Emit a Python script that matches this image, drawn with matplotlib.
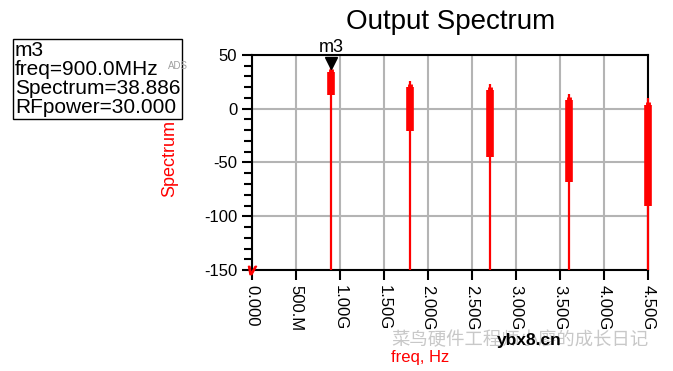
import numpy as np
import matplotlib.pyplot as plt
from matplotlib import rcParams

rcParams['font.family'] = ['Liberation Sans', 'DejaVu Sans']

# harmonic lines (GHz, dB)
freq_ghz = [0.9, 1.8, 2.7, 3.6, 4.5]
peak_db = [38.9, 25.9, 23.1, 13.8, 9.8]
band_top = [34.5, 20.6, 17.5, 8.3, 3.6]
band_bot = [12.9, -20.5, -44.6, -67.8, -90.6]

xticks = [0, 0.5, 1.0, 1.5, 2.0, 2.5, 3.0, 3.5, 4.0, 4.5]
xlabels = ['0.000', '500.M', '1.00G', '1.50G', '2.00G', '2.50G',
           '3.00G', '3.50G', '4.00G', '4.50G']
yticks = [50, 0, -50, -100, -150]

fig = plt.figure(figsize=(6.73, 3.71), dpi=100)
ax = fig.add_axes([0.3744, 0.2722, 0.5885, 0.5796])

# thin stems from the floor up to the peak
ax.vlines(freq_ghz, -150, peak_db, color='red', lw=1.6, zorder=3, clip_on=False)
# dense part of each line (thick band)
ax.vlines(freq_ghz, band_bot, band_top, color='red', lw=5.5, zorder=3, clip_on=False)
# tapered tip between band and peak
for f, t, p in zip(freq_ghz, band_top, peak_db):
    ax.vlines(f, t, (t + p) / 2, color='red', lw=3.5, zorder=3, clip_on=False)

# marker m3
ax.plot([0.9], [peak_db[0] + 4], marker='v', color='black', ms=8, clip_on=False, zorder=4)
ax.text(0.9, peak_db[0] + 10, 'm3', ha='center', va='bottom', fontsize=13)
ax.plot([0], [-150], marker='$v$', color='red', ms=6, clip_on=False, zorder=4)

ax.set_xlim(0, 4.5)
ax.set_ylim(-150, 50)
ax.set_xticks(xticks)
ax.set_xticklabels(xlabels, rotation=270, fontsize=12)
ax.set_yticks(yticks)
ax.set_yticklabels([str(v) for v in yticks], fontsize=12)
ax.set_yticks(np.arange(-150, 51, 10), minor=True)
ax.tick_params(axis='both', which='major', direction='out', length=7, width=1.5, color='black')
ax.tick_params(axis='y', which='minor', direction='out', length=6, width=1.5)
ax.grid(True, which='major', color='#b4b4b4', lw=1.5)
ax.set_axisbelow(True)
for s in ax.spines.values():
    s.set_linewidth(1.5)

ax.set_ylabel('Spectrum', color='red', fontsize=13)
ax.yaxis.set_label_coords(-0.187, 0.52)
fig.text(0.624, 0.036, 'freq, Hz', color='red', fontsize=12, ha='center', va='center')

fig.text(0.669, 0.94, 'Output Spectrum', ha='center', va='center', fontsize=20)

# marker readout box
fig.text(0.022, 0.89,
         'm3\nfreq=900.0MHz\nSpectrum=38.886\nRFpower=30.000',
         ha='left', va='top', fontsize=15, linespacing=1.0,
         bbox=dict(boxstyle='square,pad=0.1', fc='white', ec='black', lw=1))
fig.text(0.25, 0.822, 'ADS', color='#a0a0a0', fontsize=7, ha='left', va='center')

# watermark
fig.text(0.582, 0.083, '菜鸟硬件工程师小廖的成长日记', color='#c8c8c8', fontsize=13.2,
         family=['Noto Sans CJK SC', 'DejaVu Sans'], ha='left', va='center')
fig.text(0.739, 0.083, 'ybx8.cn', color='black', fontsize=12.5, fontweight='bold',
         ha='left', va='center')

fig.savefig('out.png', dpi=100)
